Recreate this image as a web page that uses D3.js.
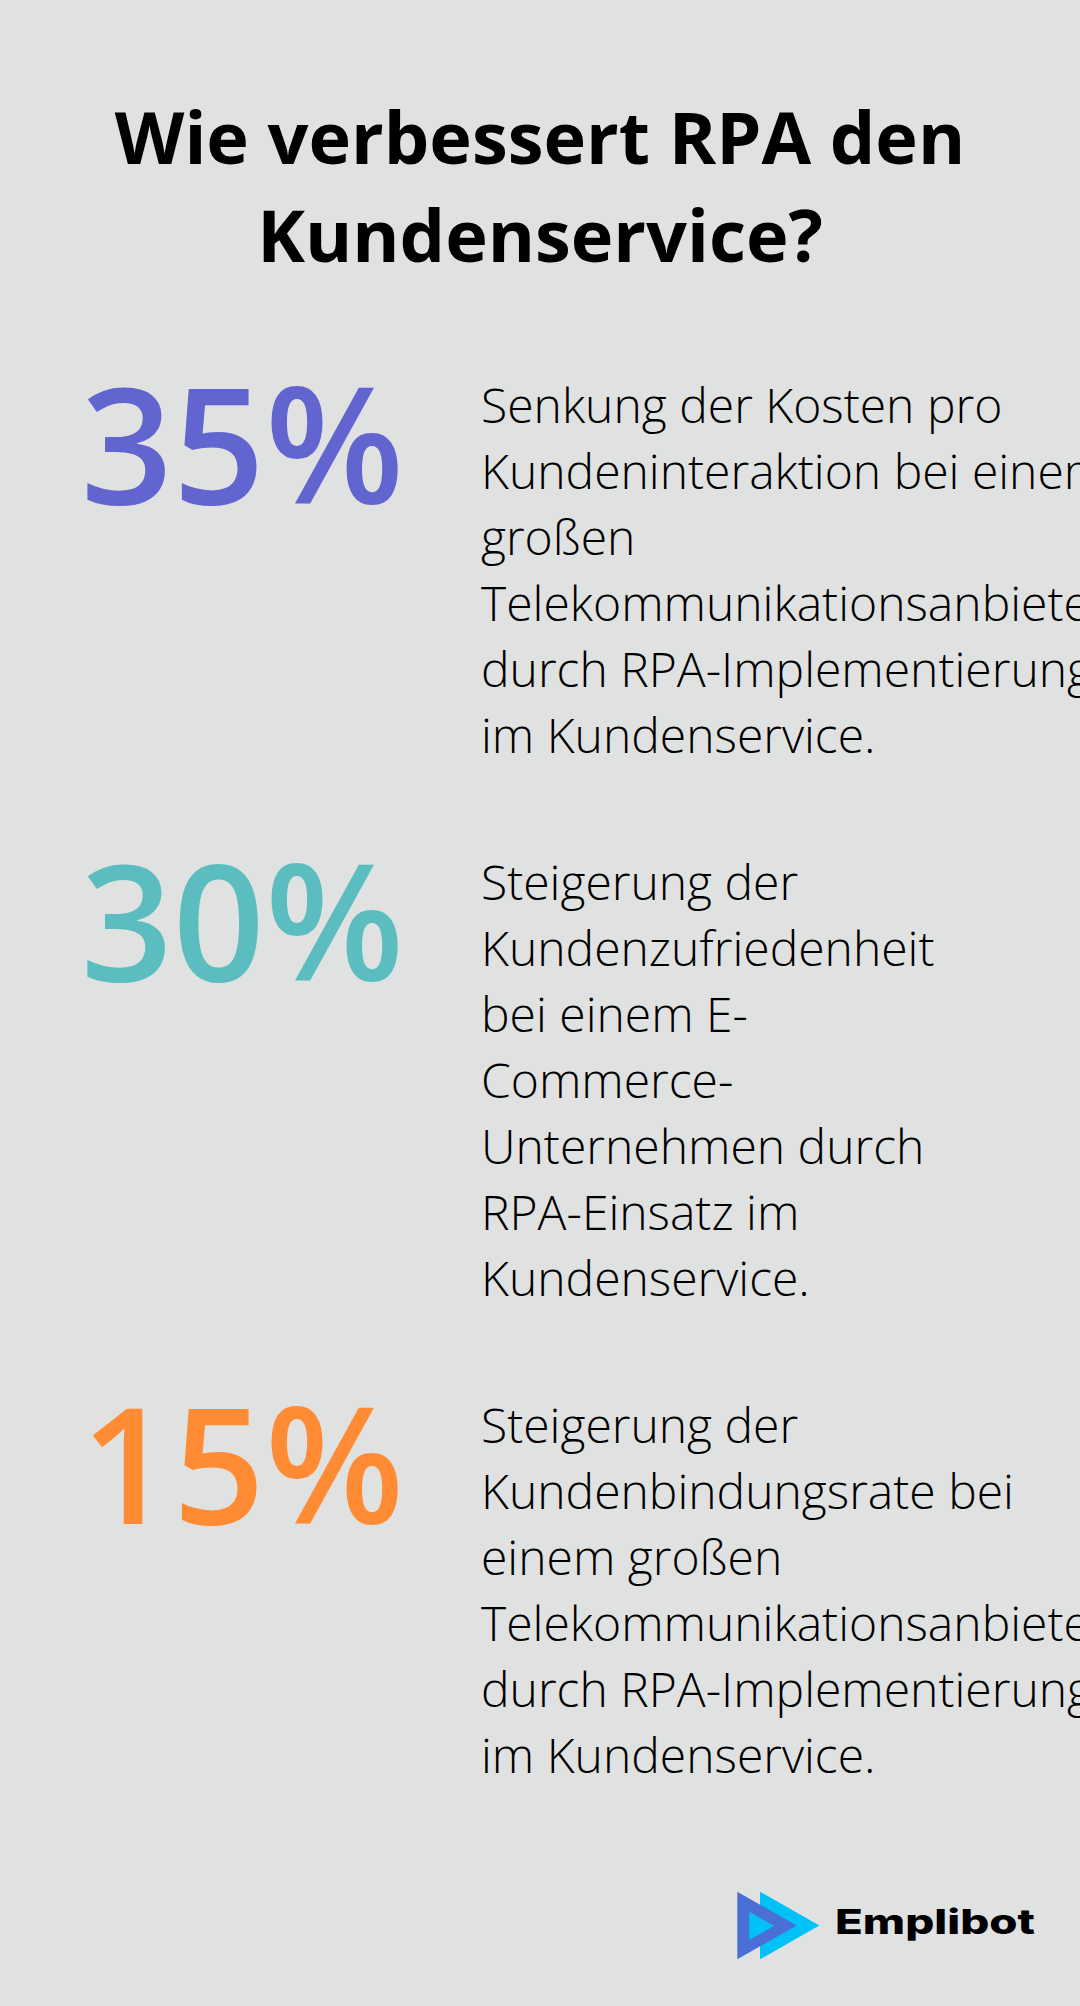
<!DOCTYPE html>
<html>
<head>
<meta charset="utf-8">
<script src="https://cdn.jsdelivr.net/npm/d3@7"></script>
<style>
  html, body { margin: 0; padding: 0; background: #e0e2e1; overflow: hidden; }
  svg { display: block; }
</style>
</head>
<body>
<div id="chart"></div>
<script>
// ---- data ----
const titleLines = ["Wie verbessert RPA den", "Kundenservice?"];
const values = [35, 30, 15];
const labels = ["35%", "30%", "15%"];
const colors = ["#6264d0", "#5bbdbf", "#ff8c35"];
const descriptions = [
  ["Senkung der Kosten pro", "Kundeninteraktion bei einem", "großen", "Telekommunikationsanbieter", "durch RPA-Implementierung", "im Kundenservice."],
  ["Steigerung der", "Kundenzufriedenheit", "bei einem E-", "Commerce-", "Unternehmen durch", "RPA-Einsatz im", "Kundenservice."],
  ["Steigerung der", "Kundenbindungsrate bei", "einem großen", "Telekommunikationsanbieter", "durch RPA-Implementierung", "im Kundenservice."]
];
const brand = "Emplibot";

// ---- layout ----
const W = 1080, H = 2006;
const svg = d3.select("#chart").append("svg")
  .attr("width", W).attr("height", H);

svg.append("rect").attr("width", W).attr("height", H).attr("fill", "#e0e2e1");

// title
svg.append("g").selectAll("text").data(titleLines).join("text")
  .attr("x", 540)
  .attr("y", (d, i) => 164 + i * 98)
  .attr("text-anchor", "middle")
  .attr("font-family", "'Open Sans', sans-serif")
  .attr("font-weight", 700)
  .attr("font-size", 72)
  .attr("fill", "#000")
  .text(d => d);

const color = d3.scaleOrdinal().domain(labels).range(colors);

const lineH = 66;
const blockGap = 147;
let firstBaseline = 423;
const blocks = descriptions.map((lines, i) => {
  const b = { label: labels[i], value: values[i], lines, y0: firstBaseline };
  firstBaseline += (lines.length - 1) * lineH + blockGap;
  return b;
});

const g = svg.append("g").selectAll("g").data(blocks).join("g");

g.append("text")
  .attr("x", 404)
  .attr("y", d => d.y0 + 81)
  .attr("text-anchor", "end")
  .attr("font-family", "'Open Sans', sans-serif")
  .attr("font-weight", 600)
  .attr("font-size", 161)
  .attr("fill", d => color(d.label))
  .text(d => d.label);

g.each(function(d) {
  d3.select(this).append("text")
    .attr("font-family", "'Open Sans', sans-serif")
    .attr("font-weight", 300)
    .attr("font-size", 48)
    .attr("fill", "#000")
    .selectAll("tspan").data(d.lines).join("tspan")
    .attr("x", 481)
    .attr("y", (l, j) => d.y0 + j * lineH)
    .text(l => l);
});

// logo
const logo = svg.append("g");
logo.append("path").attr("d", "M760,1891.7 L819.3,1925.5 L760,1959.3 Z").attr("fill", "#00c2f7");
logo.append("path").attr("d", "M737.3,1891.7 L796.7,1925.5 L737.3,1959.3 Z").attr("fill", "#4a6fd6");
logo.append("path").attr("d", "M749.3,1911.7 L774,1926 L749.3,1940 Z").attr("fill", "#00c2f7");
logo.append("text")
  .attr("x", 835).attr("y", 1934)
  .attr("font-family", "Inter, 'Open Sans', sans-serif")
  .attr("font-weight", 800)
  .attr("font-size", 34)
  .attr("textLength", 200)
  .attr("lengthAdjust", "spacingAndGlyphs")
  .attr("fill", "#000")
  .text(brand);
</script>
</body>
</html>
